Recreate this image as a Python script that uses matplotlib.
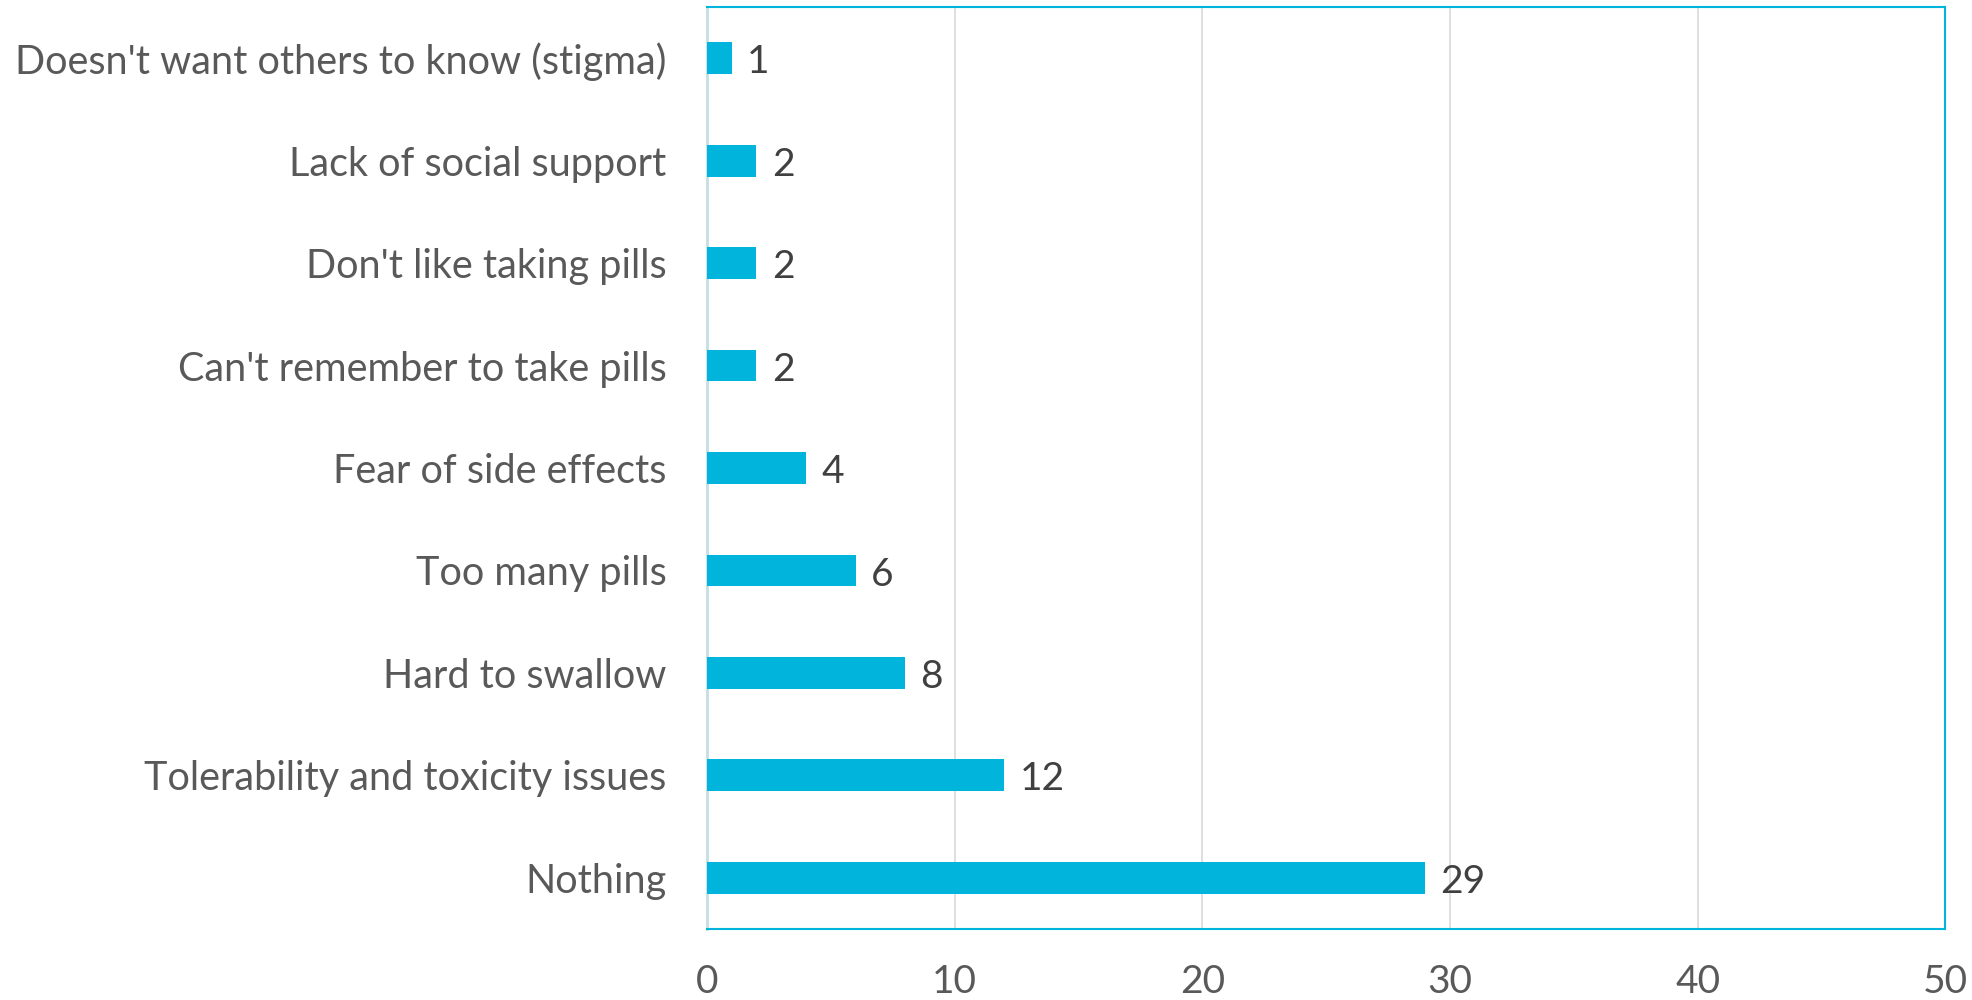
import matplotlib
matplotlib.use("Agg")
import matplotlib.pyplot as plt

# data, top to bottom as shown
categories = [
    "Doesn't want others to know (stigma)",
    "Lack of social support",
    "Don't like taking pills",
    "Can't remember to take pills",
    "Fear of side effects",
    "Too many pills",
    "Hard to swallow",
    "Tolerability and toxicity issues",
    "Nothing",
]
counts = [1, 2, 2, 2, 4, 6, 8, 12, 29]
x_ticks = [0, 10, 20, 30, 40, 50]

BAR_COLOR = '#00B4DC'
TEXT_GRAY = '#595959'

plt.rcParams['font.family'] = ['Lato', 'DejaVu Sans']

fig = plt.figure(figsize=(19.72, 10), dpi=100)
ax = fig.add_axes([0.3585, 0.071, 0.628, 0.922])

y_pos = list(range(len(categories)))
ax.barh(y_pos, counts, height=0.31, color=BAR_COLOR, zorder=3)

# value labels just past the bar ends
for y, v in zip(y_pos, counts):
    ax.annotate(str(v), xy=(v, y), xytext=(11, -3), textcoords='offset points',
                ha='left', va='center', fontsize=28, color='#404040')

ax.set_yticks(y_pos)
ax.set_yticklabels(categories, fontsize=28.5, color=TEXT_GRAY)
ax.set_ylim(len(categories) - 0.5, -0.5)

ax.set_xlim(0, 50)
ax.set_xticks(x_ticks)
ax.set_xticklabels([str(t) for t in x_ticks], fontsize=28, color=TEXT_GRAY)

ax.tick_params(axis='both', length=0)
ax.tick_params(axis='y', pad=29)
ax.tick_params(axis='x', pad=25)

ax.grid(axis='x', color='#D9D9D9', linewidth=1.2, zorder=0)
ax.set_axisbelow(True)

for side in ['top', 'right', 'bottom']:
    ax.spines[side].set_color(BAR_COLOR)
    ax.spines[side].set_linewidth(1.5)
ax.spines['left'].set_color('#C5DDE5')
ax.spines['left'].set_linewidth(2)

fig.savefig('out.png', dpi=100)
